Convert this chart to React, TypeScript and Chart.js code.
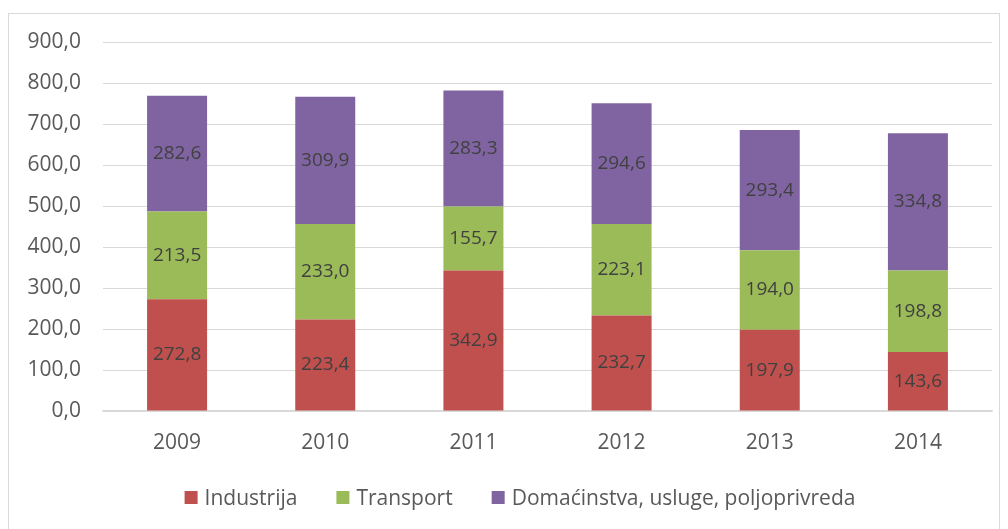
import React, { useEffect, useRef } from "react";
import { Chart, registerables } from "chart.js";

Chart.register(...registerables);

const years = ["2009", "2010", "2011", "2012", "2013", "2014"];
const industrija = [272.8, 223.4, 342.9, 232.7, 197.9, 143.6];
const transport = [213.5, 233.0, 155.7, 223.1, 194.0, 198.8];
const domacinstva = [282.6, 309.9, 283.3, 294.6, 293.4, 334.8];
const seriesNames = ["Industrija", "Transport", "Domaćinstva, usluge, poljoprivreda"];
const seriesColors = ["#C0504D", "#9BBB59", "#8064A2"];

const FONT = "'Open Sans'";
const fmt = (v: number) => v.toFixed(1).replace(".", ",");

const dataLabels = {
  id: "dataLabels",
  afterDatasetsDraw(chart: any) {
    const ctx = chart.ctx;
    ctx.save();
    ctx.font = `19px ${FONT}`;
    ctx.fillStyle = "#404040";
    ctx.textAlign = "center";
    ctx.textBaseline = "middle";
    chart.data.datasets.forEach((ds: any, di: number) => {
      const meta = chart.getDatasetMeta(di);
      meta.data.forEach((el: any, i: number) => {
        const y = (el.y + el.base) / 2;
        ctx.fillText(fmt(ds.data[i]), el.x, y);
      });
    });
    ctx.restore();
  },
};

// legend drawn below the x axis, centred like the original
const bottomLegend = {
  id: "bottomLegend",
  afterDraw(chart: any) {
    const ctx = chart.ctx;
    const box = 13;
    const gap = 7;
    const itemGap = 39;
    ctx.save();
    ctx.font = `21px ${FONT}`;
    const items = chart.data.datasets.map((ds: any) => ({
      text: ds.label as string,
      color: ds.backgroundColor as string,
      w: ctx.measureText(ds.label).width,
    }));
    const total =
      items.reduce((s: number, it: any) => s + box + gap + it.w, 0) + itemGap * (items.length - 1);
    const centerX = chart.width / 2 + 16;
    const baseline = chart.height - 37;
    let x = centerX - total / 2;
    ctx.textAlign = "left";
    ctx.textBaseline = "alphabetic";
    items.forEach((it: any) => {
      ctx.fillStyle = it.color;
      ctx.fillRect(x, baseline - box - 1, box, box);
      ctx.fillStyle = "#595959";
      ctx.fillText(it.text, x + box + gap, baseline);
      x += box + gap + it.w + itemGap;
    });
    ctx.restore();
  },
};

export default function App() {
  const ref = useRef<HTMLCanvasElement>(null);
  useEffect(() => {
    if (!ref.current) return;
    const chart = new Chart(ref.current, {
      type: "bar",
      data: {
        labels: years,
        datasets: [
          { label: seriesNames[0], data: industrija, backgroundColor: seriesColors[0] },
          { label: seriesNames[1], data: transport, backgroundColor: seriesColors[1] },
          { label: seriesNames[2], data: domacinstva, backgroundColor: seriesColors[2] },
        ],
      },
      options: {
        animation: false,
        responsive: false,
        maintainAspectRatio: false,
        datasets: { bar: { categoryPercentage: 1, barPercentage: 0.405 } },
        layout: { padding: { left: 0, right: 7, top: 28, bottom: 85 } },
        scales: {
          x: {
            stacked: true,
            grid: { display: false, drawTicks: false },
            border: { display: true, color: "#d9d9d9", width: 1.5 },
            ticks: { color: "#595959", font: { family: FONT, size: 21 }, padding: 19 },
            afterFit: (s: any) => { s.height = 46; },
          },
          y: {
            stacked: true,
            min: 0,
            max: 900,
            grid: {
              color: "#d9d9d9",
              lineWidth: 1,
              drawTicks: true,
              tickLength: 8,
              tickColor: "rgba(0,0,0,0)",
            },
            border: { display: false },
            ticks: {
              stepSize: 100,
              color: "#595959",
              font: { family: FONT, size: 21 },
              padding: 14,
              callback: (v: any) => fmt(Number(v)),
            },
            afterFit: (s: any) => { s.width = 94; },
          },
        },
        plugins: {
          legend: { display: false },
          tooltip: { enabled: false },
        },
      },
      plugins: [dataLabels, bottomLegend],
    });
    return () => chart.destroy();
  }, []);
  return (
    <div
      style={{
        position: "absolute",
        left: 8,
        top: 13,
        width: 992,
        height: 530,
        border: "1px solid #d9d9d9",
        boxSizing: "border-box",
        background: "#fff",
      }}
    >
      <canvas ref={ref} width={990} height={528} style={{ display: "block" }} />
    </div>
  );
}
